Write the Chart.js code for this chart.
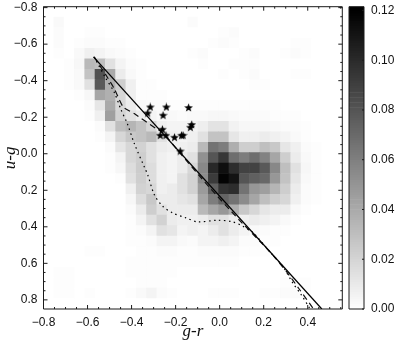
<!DOCTYPE html>
<html>
<head>
<meta charset="utf-8">
<title>g-r vs u-g</title>
<script src="https://cdn.jsdelivr.net/npm/chart.js@4"></script>
<style>
  html, body { margin: 0; padding: 0; background: #fff; }
  canvas { position: absolute; top: 0; filter: blur(0.5px); }
  #main { left: 0; }
  #bar { left: 345px; }
</style>
</head>
<body>
<canvas id="main" width="345" height="342"></canvas>
<canvas id="bar" width="54" height="342"></canvas>
<script>
// heat map, one row per u-g bin from the top, in units of 0.001
var cellValues = [
  [0,0,0,0,0,0,0,0,0,0,0,0,0,0,0,0,0,0,0,0,0,0,0,0,0,0,0,0,0],
  [0,3,0,0,0,0,0,0,0,0,0,0,0,0,2,0,0,0,0,0,0,0,0,0,0,0,0,0,0],
  [0,2,0,0,1,1,0,0,0,0,0,0,0,0,0,0,0,1,2,0,0,0,0,0,0,0,0,0,0],
  [0,2,0,1,2,2,1,1,0,0,0,0,0,0,0,0,1,2,1,0,0,0,0,0,1,1,0,0,0],
  [0,1,0,3,7,5,3,2,1,0,0,0,0,0,1,2,0,0,0,1,2,0,0,1,2,1,0,0,0],
  [0,0,1,4,33,30,14,5,2,1,0,0,0,0,0,1,0,0,1,1,1,0,0,0,0,0,0,0,0],
  [0,0,1,3,28,82,40,9,3,1,0,0,0,0,0,0,0,1,0,1,2,0,0,0,1,1,0,0,0],
  [0,0,1,3,14,78,38,23,7,1,1,0,0,0,0,0,0,0,0,0,1,1,0,0,0,0,0,0,0],
  [0,0,0,1,4,42,37,19,7,1,1,1,0,0,0,0,0,0,0,0,0,0,0,0,0,0,0,0,0],
  [0,0,0,0,2,12,40,19,9,3,2,2,1,1,1,1,1,1,1,1,1,1,1,0,0,0,0,0,0],
  [0,0,0,0,1,7,45,21,14,9,5,3,3,2,3,3,4,4,3,2,2,2,1,1,1,0,0,0,0],
  [0,0,0,0,0,2,14,30,35,28,19,7,5,5,5,8,13,13,6,4,4,4,3,2,2,1,0,0,0],
  [0,0,0,0,0,1,5,19,26,28,33,14,7,5,7,14,28,28,12,7,7,9,7,5,3,1,0,0,0],
  [0,0,0,0,0,0,2,12,19,21,14,9,7,7,9,33,66,61,38,23,23,30,26,12,7,2,1,0,0],
  [0,0,0,0,0,0,1,5,19,23,14,7,5,9,14,52,80,94,68,61,68,59,42,23,9,3,1,0,0],
  [0,0,0,0,0,0,1,4,16,24,16,7,5,9,19,56,101,113,99,89,89,78,56,30,14,4,1,0,0],
  [0,0,0,0,0,0,0,1,14,23,16,7,5,14,21,54,92,118,111,80,75,71,49,28,12,3,1,0,0],
  [0,0,0,0,0,0,0,0,7,21,19,7,9,14,21,47,75,96,99,66,49,45,35,23,9,2,1,0,0],
  [0,0,0,0,0,0,0,0,4,16,26,9,9,12,14,42,61,73,66,54,42,30,23,19,7,2,1,0,0],
  [0,0,0,0,0,0,0,0,2,9,23,14,9,9,9,33,42,49,38,26,19,12,9,9,3,1,0,0,0],
  [0,0,0,0,0,0,0,0,1,5,14,21,9,7,7,9,14,14,9,7,9,7,5,3,1,0,0,0,0],
  [0,0,0,0,0,0,0,0,1,2,5,14,12,5,7,5,9,14,9,5,3,2,1,1,0,0,0,0,0],
  [0,0,0,0,0,0,0,0,1,1,2,5,5,3,2,5,5,7,5,2,2,1,1,0,0,0,0,0,0],
  [0,0,0,0,1,1,0,0,0,1,1,2,2,1,1,2,2,2,2,1,1,1,0,0,0,0,0,0,0],
  [0,0,0,0,0,0,0,0,1,1,1,1,1,1,1,1,1,1,1,0,0,0,0,0,0,0,0,0,0],
  [0,1,1,0,0,0,0,0,1,1,1,1,1,0,0,0,0,0,0,0,0,0,0,0,0,0,0,0,0],
  [0,1,1,0,0,0,0,0,0,1,1,1,0,0,0,0,0,0,0,0,0,0,0,1,1,1,0,0,0],
  [0,1,1,0,1,0,0,0,1,3,5,2,1,0,0,0,1,1,1,0,0,1,1,2,2,1,0,0,0],
  [0,0,0,0,0,0,0,0,0,0,0,0,0,0,0,0,0,0,0,0,0,0,0,0,0,0,0,0,0]
];

var solidX = [-0.573, 0.464];
var solidY = [-0.53, 0.85];

var dottedX = [-0.570,-0.520,-0.479,-0.447,-0.420,-0.388,-0.339,-0.327,-0.297,-0.259,-0.214,-0.153,-0.100,-0.009,0.059,0.105,0.150,0.226,0.286,0.332,0.370,0.408];
var dottedY = [-0.530,-0.419,-0.337,-0.238,-0.167,-0.057,0.081,0.114,0.223,0.287,0.324,0.351,0.373,0.364,0.373,0.397,0.430,0.534,0.616,0.707,0.771,0.844];

var dashedX = [-0.570,-0.516,-0.479,-0.438,-0.388,-0.289,-0.260,-0.183,-0.047,0.090,0.226,0.302,0.362,0.423];
var dashedY = [-0.530,-0.430,-0.357,-0.256,-0.220,-0.138,-0.118,-0.008,0.183,0.364,0.534,0.643,0.742,0.844];

var starX = [-0.315,-0.327,-0.242,-0.257,-0.141,-0.127,-0.133,-0.260,-0.270,-0.244,-0.205,-0.173,-0.166,-0.179];
var starY = [-0.256,-0.223,-0.256,-0.211,-0.253,-0.160,-0.145,-0.134,-0.101,-0.101,-0.090,-0.101,-0.101,-0.015];

var xTicks = [-0.8,-0.6,-0.4,-0.2,0,0.2,0.4];
var xTickLabels = ['\u22120.8','\u22120.6','\u22120.4','\u22120.2','0.0','0.2','0.4'];
var yTicks = [-0.8,-0.6,-0.4,-0.2,0,0.2,0.4,0.6,0.8];
var yTickLabels = ['\u22120.8','\u22120.6','\u22120.4','\u22120.2','0.0','0.2','0.4','0.6','0.8'];
var barTicks = [0,0.02,0.04,0.06,0.08,0.10,0.12];
var barTickLabels = ['0.00','0.02','0.04','0.06','0.08','0.10','0.12'];

var xMin = -0.8, xMax = 0.557;
var yMin = -0.805, yMax = 0.85;
var valueMax = 0.1215;

function grey(v) {
  var g = Math.round(255 * (1 - Math.min(v / 0.12, 1)));
  return 'rgb(' + g + ',' + g + ',' + g + ')';
}

function zip(xs, ys) {
  return xs.map(function (x, i) { return { x: x, y: ys[i] }; });
}

// labels may hang over the plot edge, so no extra room is reserved for them
function noLabelRoom(s) {
  s.paddingTop = 0;
  s.paddingBottom = 0;
  s.paddingLeft = 0;
  s.paddingRight = 0;
}

// one floating bar per bin
var cells = [];
var rows = cellValues.length;
var cols = cellValues[0].length;
var binW = (xMax - xMin) / cols;
var binH = (yMax - yMin) / rows;
for (let j = 0; j < rows; j++) {
  for (let i = 0; i < cols; i++) {
    cells.push({
      x: xMin + (i + 0.5) * binW,
      y: [yMin + j * binH, yMin + (j + 1) * binH],
      v: cellValues[j][i] / 1000
    });
  }
}

// filled five point star for the point style
var star = document.createElement('canvas');
star.width = 9;
star.height = 9;
var sc = star.getContext('2d');
sc.beginPath();
for (let k = 0; k < 10; k++) {
  let r = k % 2 ? 1.9 : 4.6;
  let a = -Math.PI / 2 + k * Math.PI / 5;
  sc.lineTo(4.5 + r * Math.cos(a), 4.9 + r * Math.sin(a));
}
sc.closePath();
sc.fillStyle = '#000';
sc.fill();

// frame and inward ticks, major and minor, on every side
var framePlugin = {
  id: 'frame',
  afterDatasetsDraw: function (chart, args, opts) {
    var c = chart.ctx, a = chart.chartArea;
    var xs = chart.scales.x, ys = chart.scales.y;
    c.save();
    c.strokeStyle = '#1a1a1a';
    c.lineWidth = 1;
    c.beginPath();
    c.rect(a.left, a.top, a.right - a.left, a.bottom - a.top);
    xMinor.forEach(function (v) {
      var p = xs.getPixelForValue(v);
      var len = xTicks.indexOf(v) >= 0 ? 4 : 2;
      c.moveTo(p, a.top); c.lineTo(p, a.top + len);
      c.moveTo(p, a.bottom); c.lineTo(p, a.bottom - len);
    });
    yMinor.forEach(function (v) {
      var p = ys.getPixelForValue(v);
      var len = yTicks.indexOf(v) >= 0 ? 4 : 2;
      c.moveTo(a.left, p); c.lineTo(a.left + len, p);
      c.moveTo(a.right, p); c.lineTo(a.right - len, p);
    });
    c.stroke();
    c.restore();
  }
};

var xMinor = [-0.8,-0.75,-0.7,-0.65,-0.6,-0.55,-0.5,-0.45,-0.4,-0.35,-0.3,-0.25,-0.2,-0.15,-0.1,-0.05,0,0.05,0.1,0.15,0.2,0.25,0.3,0.35,0.4,0.45,0.5,0.55];
var yMinor = [-0.8,-0.75,-0.7,-0.65,-0.6,-0.55,-0.5,-0.45,-0.4,-0.35,-0.3,-0.25,-0.2,-0.15,-0.1,-0.05,0,0.05,0.1,0.15,0.2,0.25,0.3,0.35,0.4,0.45,0.5,0.55,0.6,0.65,0.7,0.75,0.8];

var tickFont = { family: '"Liberation Sans", Arial, sans-serif', size: 12 };
var titleFont = { family: '"Liberation Serif", "Times New Roman", serif', size: 17, style: 'italic' };

new Chart(document.getElementById('main'), {
  type: 'bar',
  plugins: [framePlugin],
  data: {
    datasets: [
      {
        type: 'scatter',
        data: zip(starX, starY),
        pointStyle: star,
        pointRadius: 5,
        order: 1
      },
      {
        type: 'line',
        data: zip(solidX, solidY),
        borderColor: '#000',
        borderWidth: 1.3,
        pointRadius: 0,
        order: 2
      },
      {
        type: 'line',
        data: zip(dashedX, dashedY),
        borderColor: '#111',
        borderWidth: 1.2,
        borderDash: [6, 4],
        tension: 0.2,
        pointRadius: 0,
        order: 3
      },
      {
        type: 'line',
        data: zip(dottedX, dottedY),
        borderColor: '#000',
        borderWidth: 1.2,
        borderDash: [1.5, 3.5],
        tension: 0.3,
        pointRadius: 0,
        order: 4
      },
      {
        type: 'bar',
        data: cells,
        barThickness: 10.3,
        backgroundColor: function (ctx) {
          return ctx.raw ? grey(ctx.raw.v) : '#fff';
        },
        order: 5
      }
    ]
  },
  options: {
    responsive: false,
    animation: false,
    layout: { autoPadding: false, padding: { top: 6.7, right: 2.7, left: 0, bottom: 0 } },
    plugins: {
      legend: { display: false },
      tooltip: { enabled: false }
    },
    scales: {
      x: {
        type: 'linear',
        offset: false,
        min: xMin,
        max: xMax,
        grid: { display: false, offset: false, drawTicks: false },
        border: { display: false },
        afterBuildTicks: function (s) {
          s.ticks = xTicks.map(function (v) { return { value: v }; });
        },
        afterFit: function (s) { s.height = 33; noLabelRoom(s); },
        ticks: {
          font: tickFont,
          color: '#111',
          padding: 6,
          maxRotation: 0,
          autoSkip: false,
          callback: function (v) { return xTickLabels[xTicks.indexOf(v)]; }
        },
        title: { display: true, text: 'g-r', font: titleFont, color: '#111', padding: 0 }
      },
      y: {
        type: 'linear',
        reverse: true,
        min: yMin,
        max: yMax,
        grid: { display: false, drawTicks: false },
        border: { display: false },
        afterBuildTicks: function (s) {
          s.ticks = yTicks.map(function (v) { return { value: v }; });
        },
        afterFit: function (s) { s.width = 43.5; noLabelRoom(s); },
        ticks: {
          font: tickFont,
          color: '#111',
          padding: 6,
          autoSkip: false,
          callback: function (v) { return yTickLabels[yTicks.indexOf(v)]; }
        },
        title: { display: true, text: 'u-g', font: titleFont, color: '#111', padding: 0 }
      }
    }
  }
});

// colour bar: a stack of thin grey bars on its own value axis
var barLevels = [];
for (let i = 0; i < 122; i++) {
  barLevels.push({ x: 0.5, y: [i * 0.001, (i + 1) * 0.001], v: (i + 0.5) * 0.001 });
}

var barFrame = {
  id: 'barFrame',
  afterDatasetsDraw: function (chart) {
    var c = chart.ctx, a = chart.chartArea, ys = chart.scales.y;
    c.save();
    c.strokeStyle = '#1a1a1a';
    c.lineWidth = 1;
    c.beginPath();
    c.rect(a.left, a.top, a.right - a.left, a.bottom - a.top);
    barTicks.forEach(function (v) {
      var p = ys.getPixelForValue(v);
      c.moveTo(a.right, p); c.lineTo(a.right - 2, p);
    });
    c.stroke();
    c.restore();
  }
};

new Chart(document.getElementById('bar'), {
  type: 'bar',
  plugins: [barFrame],
  data: {
    datasets: [{
      data: barLevels,
      barThickness: 15,
      backgroundColor: function (ctx) {
        return ctx.raw ? grey(ctx.raw.v) : '#fff';
      }
    }]
  },
  options: {
    responsive: false,
    animation: false,
    layout: { autoPadding: false, padding: { top: 6.7, bottom: 33, left: 4, right: 0 } },
    plugins: { legend: { display: false }, tooltip: { enabled: false } },
    scales: {
      x: {
        type: 'linear',
        offset: false,
        min: 0,
        max: 1,
        display: false,
        grid: { display: false, offset: false }
      },
      y: {
        type: 'linear',
        position: 'right',
        min: 0,
        max: valueMax,
        grid: { display: false, drawTicks: false },
        border: { display: false },
        afterBuildTicks: function (s) {
          s.ticks = barTicks.map(function (v) { return { value: v }; });
        },
        afterFit: function (s) { s.width = 35; noLabelRoom(s); },
        ticks: {
          font: tickFont,
          color: '#111',
          padding: 7,
          autoSkip: false,
          callback: function (v) { return barTickLabels[barTicks.indexOf(v)]; }
        }
      }
    }
  }
});
</script>
</body>
</html>
